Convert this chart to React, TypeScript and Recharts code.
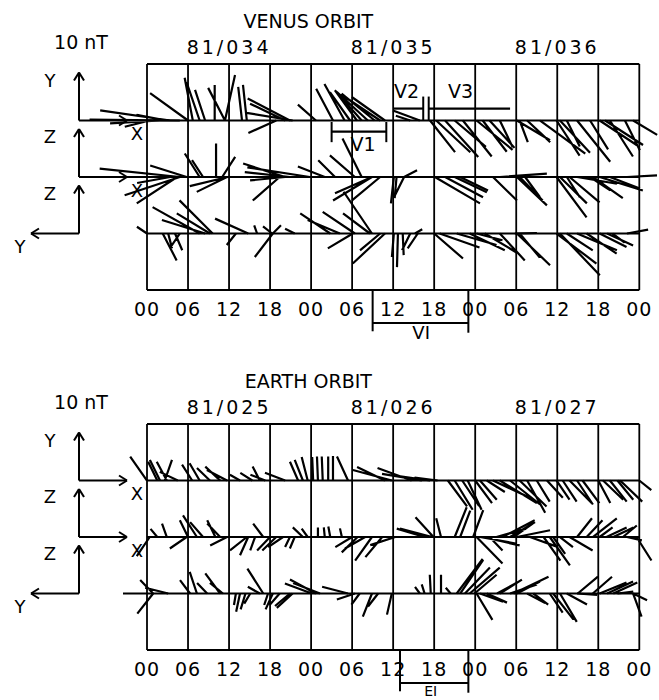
import React from 'react';
import { ComposedChart, XAxis, YAxis, Line, ReferenceLine, ReferenceDot } from 'recharts';

// ---------------- data ----------------
const TICKS = [0, 6, 12, 18, 24, 30, 36, 42, 48, 54, 60, 66, 72];
const TICK_LABELS = ['00', '06', '12', '18', '00', '06', '12', '18', '00', '06', '12', '18', '00'];
const DAY_CENTERS = [12, 36, 60];
const VENUS_DAYS = ['81/034', '81/035', '81/036'];
const EARTH_DAYS = ['81/025', '81/026', '81/027'];
const AXIS_NAMES = [['Y', 'X'], ['Z', 'X'], ['Z', 'Y']];
const SCALE_NT = 10;

// [hour, Bx (nT), By (nT)] vectors, one list per trace
const VENUS_R1: number[][] = [
  [3.4, -14.6, 2.1], [4.8, -18.8, 0.2], [2.9, -6.3, 1.2], [0.4, -5.2, -1.3], [1.9, -10.4, -0.6],
  [6.0, -7.9, 5.7], [6.7, -1.7, 8.9], [7.7, -2.7, 7.9], [8.5, -2.1, 6.4], [9.9, 0, 7.4], [11.4, -3.5, 6.8], [11.4, 2.1, 9.5],
  [13.9, -0.8, 7.0], [14.6, -0.8, 7.4], [20.9, -8.8, 4.6], [18.9, -5.8, -2.6], [21.3, -9.6, 1.6], [20.2, -7.3, 3.5],
  [24.7, -3.75, 3.3],
  [27.2, -3.5, 6.6], [28.9, -4.2, 7.6], [29.7, -4.2, 5.9], [30.7, -4.5, 6.2], [31.4, -5.6, 6.3], [32.3, -6.5, 6.0],
  [33.3, -6.9, 5.6], [34.1, -7.5, 5.0], [34.8, -6.9, 4.9],
  [39.9, -5.6, 2.1], [38.5, -3, 1.0],
  [41.4, 5.2, -6.6], [42.3, 7.1, -6.6], [43.6, 6.9, -7.6], [45.0, 6.5, -5.5], [46.2, 6.0, -7.5], [48.2, 7.5, -6.1],
  [49.1, 5.0, -6.5], [50.1, 5.2, -5.7], [51.6, 2.7, -5.6], [54.1, 6.9, -4.1], [54.5, 1.7, -4.5], [55.6, 4.8, -4.5],
  [57.5, 9.4, -6.9], [59.9, 4.8, -7.3], [60.4, 6.25, -6.7], [61.4, 2.7, -5.4], [62.9, 6.9, -8.6], [64.8, 3.75, -6],
  [66.2, 7.7, -5.1], [67.0, 7.9, -5.1], [67.7, 4.8, -7.5], [69.9, 3.1, -6.2], [71.1, 5.0, -3.0],
];
const VENUS_R2: number[][] = [
  [4.8, -16.7, 1.75], [5.1, -19.2, 0], [4.8, -11.5, -3.8], [4.4, -8.4, -5.5], [3.4, -6.9, -1.25], [5.8, -7.6, 2.4],
  [7.7, -3.1, 4.9], [8.2, -2.3, 3.5], [10.1, 0, 7.0], [11.8, -7.9, -1.9], [11.7, -6.3, -3.1], [11.0, 2.7, 4.2],
  [20.2, -8.75, 2.8], [20.9, -9.4, 1.0], [19.4, -5.6, -4.9], [20.2, -7.3, -0.7], [26.0, -5.6, 2.2], [23.8, -13, 2.0],
  [27.5, -3.5, 3.5], [30.4, -5.2, 4.5], [31.4, -4.0, 8.0], [32.9, -7.7, -3.4], [32.9, -8.1, -4.9], [34.1, -5.8, -4.8],
  [36.1, -0.6, -5.5], [36.5, -0.4, -4.4], [37.6, 2.7, 1.4], [37.6, -1.9, -3.8],
  [42.1, 9.4, -5.5], [43.6, 7.9, -4.2], [45.0, 6.7, -3.2], [45.8, 5.8, -2.8],
  [50.6, 5.0, -4.9], [51.6, 9.8, 0.7], [54.1, 6.25, -5.9], [54.5, 4.8, -4.9], [55.3, 3.1, -4.2], [59.9, 6.25, -8.4],
  [60.4, 5.6, -5.5], [61.4, 2.7, -4.2], [61.8, 6.25, -5.3], [62.9, 8.3, -1.4], [65.2, 6.25, -4.4], [66.2, 9.0, -2.8],
  [67.7, 6.25, -2.4], [70.2, 6.25, 0.35], [64.8, 4.2, -2.8],
];
const VENUS_R3: number[][] = [
  [0, -2.1, 1.4], [2.3, 2.9, -5.6], [3.1, 0.8, -3.1], [4.1, 1.5, -3.5], [4.8, -2.1, -3.1],
  [7.7, -9.8, 5.5], [8.5, -9.0, 2.8], [9.2, -6.9, 4.2], [9.6, -6.9, 6.9],
  [13.0, -1.9, -2.4], [14.8, -6.9, 3.1], [16.1, -0.6, 1.7], [18.4, -3.75, -4.9], [18.3, -1.9, 1.5], [18.4, 1.7, 1.7], [21.6, -2, 1],
  [26.8, -6.25, 4.2], [28.2, -6.7, 2.8], [30.4, -6.7, 4.5], [30.1, -5.2, -3.1], [32.6, -5.6, 4.2], [32.9, -5.9, 8.7],
  [34.8, -6.7, -6.25], [34.1, -4.2, -3.5],
  [36.1, -0.4, -4.9], [36.7, -0.2, -7.0], [37.4, 0.2, -4.5], [38.5, -1.7, -3.5], [39.6, -2.1, -3.1], [39.2, 1.5, 0.9],
  [42.0, 6.0, -5.2], [42.8, 8.3, -2.9], [45.3, 8.3, -2.4], [47.2, 7.3, -3.5], [48.2, 5.4, -1.4], [49.4, 6.7, -4.0],
  [51.6, 5.2, -5.6], [54.1, 6.9, -6.6], [54.5, 4.2, -5.0], [53.8, 4.6, 0.1], [59.9, 8.3, -6.25], [60.4, 8.3, -8.7],
  [61.4, 5.4, -3.5], [62.9, 8.3, -3.5], [64.3, 6.25, -4.2], [66.2, 5.6, -2.8], [67.3, 5.4, -2.5], [68.1, 2.5, -1.9], [70.2, 4.4, 0.8],
];
const EARTH_R1: number[][] = [
  [0, -3.5, 5.0], [1.5, -1.9, 3.9], [1.9, -2.1, 4.3], [2.9, -2.1, 3.9], [2.6, 1.5, 4.3], [4.5, -3.75, 1.8],
  [6.6, -2.1, 3.3], [7.7, -2.1, 3.6], [9.2, -2.7, 2.6], [10.7, -3.1, 2.9], [11.7, -4.2, 2.2], [13.6, -2.1, 1.2],
  [15.4, -2.5, 1.6], [16.5, -1.5, 2.9], [17.3, -3.1, 1.2], [20.2, -4.2, 1.6],
  [22.1, -1.7, 3.9], [22.8, -1.7, 4.3], [23.5, -1.25, 4.9], [24.3, -0.2, 4.9], [25.0, -0.2, 5.0], [25.7, -0.2, 5.0],
  [26.5, 0, 5.0], [27.2, 0, 5.1], [29.4, -2.3, 5.0],
  [35.8, -8.1, 2.2], [34.8, -5.8, 2.8], [38.7, -7.1, 2.6], [40.2, -8.3, 1.4], [41.4, -7.3, 1.0], [42.5, -4.8, 0.6],
  [44.0, 4.0, -5.4], [45.0, 3.75, -6.1], [46.1, 3.5, -5.3], [46.9, 2.9, -6.1], [48.0, 3.5, -4.7],
  [48.7, 3.5, -4.0], [49.7, 3.75, -2.4], [50.6, 7.7, -3.6], [51.6, 7.7, -4.7], [53.1, 6.25, -5.0], [54.5, 5.6, -5.4],
  [55.6, 3.75, -6.7], [57.0, 2.7, -4.4], [58.5, 3.3, -3.6], [59.9, 2.7, -4.0], [60.8, 2.9, -4.4], [61.8, 4.6, -4.7],
  [62.9, 3.3, -5.0], [63.7, 3.5, -4.7], [66.0, 2.5, -4.7], [66.7, 4.2, -4.0], [67.7, 3.5, -4.4], [68.8, 3.3, -4.0],
  [69.2, 4.6, -4.4], [72.0, 2.5, -2.0],
];
const EARTH_R2: number[][] = [
  [0.4, -2.7, -4.0], [1.5, -1.4, 1.7], [2.9, -1.0, 2.8], [5.8, -3.5, -2.4], [6.0, -1.7, 3.5], [7.3, -2.9, 4.5],
  [8.2, -2.7, 3.1], [10.0, -1.7, 3.5], [10.7, -2.7, 2.8], [11.7, -3.5, -1.75],
  [14.6, -3.5, -2.8], [14.8, -1.7, -3.8], [15.8, -1.0, -2.8], [17.0, -2.1, 2.8], [18.0, -2.7, -2.8], [18.9, -2.9, -2.8],
  [19.9, -3.1, -2.1], [20.9, -1.0, -2.1], [21.6, -1.0, -2.4], [22.8, -2.1, 2.0],
  [23.5, -1.25, 1.75], [25.0, 0, 2.0], [26.0, -0.2, 2.0], [26.8, -0.4, 2.2], [28.5, -0.4, 1.8], [30.0, -3.5, -2.1],
  [30.8, -3.3, -3.2], [31.9, -4.2, -2.4], [32.9, -3.5, -4.9], [34.4, -3.5, -4.2], [35.8, -6.7, 0], [36.3, -5.2, -1.7],
  [40.6, -5.8, 1.75], [41.7, -6.7, 1.75], [41.9, -3.75, 4.1], [43.0, -1.0, 3.9], [45.0, 2.5, 6.2], [45.8, 2.1, 5.5], [47.7, 2.1, 5.6],
  [48.2, 5.4, -5.5], [48.7, 7.7, -1.4], [49.1, 7.7, -1.75], [50.1, 2.7, -2.8], [51.1, 6.25, 1.75], [52.0, 6.7, 3.5],
  [53.1, 5.2, 3.1], [53.6, 4.0, 2.8], [54.1, 6.9, 1.4], [56.0, 5.6, -2.0], [58.0, 3.5, -4.9], [58.9, 4.2, -5.9],
  [59.4, 2.5, -3.5], [60.4, 2.7, -2.1], [61.8, 4.8, -2.8], [62.9, 3.1, 3.9], [64.3, 3.3, 3.5], [65.2, 5.0, 3.9],
  [66.2, 2.7, 2.0], [67.2, 4.2, 2.0], [68.2, 4.2, 2.0], [69.6, 2.9, 2.4], [70.2, 3.1, -0.7], [71.6, 3.1, -4.9],
];
const EARTH_R3: number[][] = [
  [0, -5.0, 0], [0.9, -2.7, 2.8], [3.1, -4.8, 1.2], [0.9, -3.3, -4.2],
  [6.3, -2.1, 2.8], [7.3, -1.5, 4.5], [8.8, -2.1, 2.2], [10.7, -3.1, 4.2], [11.1, -2.7, 2.2],
  [13.0, -0.4, -2.4], [13.6, -0.8, -3.8], [14.4, -1.0, -3.3], [15.1, -1.25, -2.1], [16.5, -2.5, 1.4], [17.0, -3.3, 5.2],
  [17.7, -0.8, -2.4], [18.4, -1.5, -3.3], [19.4, -2.1, -2.4], [20.9, -3.1, -2.6], [21.3, -3.3, -3.0],
  [24.7, -5.4, 2.9], [25.3, -5.6, 2.2], [24.1, -5.6, 2.1], [29.4, -5.4, 1.4], [30.4, -3.75, -1.25], [31.1, -1.7, -2.3],
  [32.9, -1.9, -4.8], [33.8, -2.1, -2.7], [35.8, -1.0, -4.4],
  [39.9, -1.0, 1.4], [40.6, -0.6, 1.9], [41.5, -0.2, 3.9], [43.0, 0, 3.9], [44.4, -1.0, 1.2],
  [45.3, 5.4, 7.2], [45.8, 4.8, 7.0], [46.5, 5.2, 5.4], [47.2, 6.25, 5.4], [47.9, 4.6, 3.9], [48.2, 3.3, -5.5],
  [48.7, 4.8, -1.7], [49.7, 4.2, -1.9], [51.2, 4.2, 2.3], [51.6, 4.6, 2.9], [53.1, 5.6, 1.9], [53.6, 7.3, 3.5],
  [54.1, 4.8, 2.5], [55.6, 3.75, -2.0], [56.5, 3.1, -2.3], [58.9, 2.7, -4.0], [59.4, 4.2, -5.4], [60.4, 3.5, -5.9],
  [61.4, 4.2, -2.3], [62.9, 4.2, -0.3], [63.0, 4.2, 3.5], [65.2, 4.0, 3.5], [66.2, 5.6, 2.3], [67.3, 5.4, 2.5],
  [68.2, 5.0, 2.3], [68.8, 3.3, 0.4], [71.1, 2.9, -1.4], [71.1, 1.75, -4.8],
];

// interval markers [start hour, end hour]
const V1 = [27.0, 35.0];
const V2 = [36.0, 40.4];
const V3 = [41.2, 53.1];
const VI = [33.0, 47.0];
const EI = [37.0, 47.0];

// ---------------- layout ----------------
const W = 659;
const PX_H = 6.8375; // px per hour
const PX_NT = 4.8; // px per nT
const K = PX_NT / PX_H; // hour-width of 1 nT
const PLOT_H = 290;
const X_MIN = -147 / PX_H;
const X_MAX = (W - 147) / PX_H;
const Y_MAX = PLOT_H / PX_NT;
const ROW = 11.77;
const BASES = [3 * ROW, 2 * ROW, ROW];
const BOX_TOP = 4 * ROW;
const AXIS_T0 = -68 / PX_H;
const FONT = 'DejaVu Sans';
const hx = (px: number) => px / PX_H;
const ny = (px: number) => px / PX_NT;

const seg = (key: string, a: number[], b: number[], w = 1.8) => (
  <ReferenceLine
    key={key}
    segment={[{ x: a[0], y: a[1] }, { x: b[0], y: b[1] }]}
    stroke="#000"
    strokeWidth={w}
    ifOverflow="visible"
  />
);

const textMark = (key: string, t: number, y: number, text: string, size = 19, spacing = 0) => (
  <ReferenceDot
    key={key}
    x={t}
    y={y}
    r={0}
    fill="none"
    stroke="none"
    ifOverflow="visible"
    label={{
      content: (p: any) => {
        const vb = p.viewBox || {};
        const cx = (vb.x ?? 0) + (vb.width ?? 0) / 2;
        const cy = (vb.y ?? 0) + (vb.height ?? 0) / 2;
        return (
          <text x={cx} y={cy} dy="0.36em" textAnchor="middle" fontSize={size} fontFamily={FONT}
            letterSpacing={spacing} fill="#000">{text}</text>
        );
      },
    }}
  />
);

const buildSegs = (rows: number[][], base: number) => {
  const out: { x: number; y: number | null }[] = [];
  rows.forEach(([t, bx, by]) => {
    out.push({ x: t, y: base });
    out.push({ x: t + bx * K, y: base + by });
    out.push({ x: t + bx * K, y: null });
  });
  return out;
};

function gridMarks(): React.ReactElement[] {
  const out: React.ReactElement[] = [];
  TICKS.forEach((t) => out.push(seg(`gv${t}`, [t, 0], [t, BOX_TOP], 1.8)));
  [0, ...BASES, BOX_TOP].forEach((y, i) => out.push(seg(`gh${i}`, [0, y], [72, y], 1.8)));
  return out;
}

function axisMarks(): React.ReactElement[] {
  const out: React.ReactElement[] = [];
  const T0 = AXIS_T0;
  BASES.forEach((B, i) => {
    const top = B + SCALE_NT;
    out.push(seg(`av${i}`, [T0, B], [T0, top], 2));
    out.push(seg(`ava${i}`, [T0, top], [T0 - hx(5), top - ny(8)], 2));
    out.push(seg(`avb${i}`, [T0, top], [T0 + hx(5), top - ny(8)], 2));
    const dir = i < 2 ? 1 : -1;
    const tip = T0 + dir * SCALE_NT * K;
    out.push(seg(`ah${i}`, [T0, B], [tip, B], 2));
    out.push(seg(`aha${i}`, [tip, B], [tip - dir * hx(8), B + ny(5)], 2));
    out.push(seg(`ahb${i}`, [tip, B], [tip - dir * hx(8), B - ny(5)], 2));
    out.push(textMark(`al${i}`, T0 - hx(29), B + 8.4, AXIS_NAMES[i][0], 18));
    if (i < 2) out.push(textMark(`ax${i}`, hx(-10), B - 2.8, AXIS_NAMES[i][1], 18));
    else out.push(textMark(`ay${i}`, T0 - hx(59), B - 2.8, AXIS_NAMES[i][1], 18));
  });
  return out;
}

function lowerBracket(name: string, iv: number[], label: string, labelT: number, labelY: number, size: number): React.ReactElement[] {
  return [
    seg(`${name}l`, [iv[0], 0], [iv[0], -8.6], 2),
    seg(`${name}h`, [iv[0], -6.9], [iv[1], -6.9], 2),
    seg(`${name}r`, [iv[1], 0], [iv[1], -8.9], 2),
    textMark(`${name}t`, labelT, labelY, label, size),
  ];
}

function venusMarks(): React.ReactElement[] {
  const yV1 = 33.0;
  const yV23 = 37.8;
  return [
    seg('v1h', [V1[0], yV1], [V1[1], yV1], 2.2),
    seg('v1l', [V1[0], 30.8], [V1[0], 35.0], 2),
    seg('v1r', [V1[1], 30.8], [V1[1], 35.0], 2),
    textMark('v1t', 31.6, 30.4, 'V1', 19),
    seg('v2h', [V2[0], yV23], [V2[1], yV23], 2.2),
    seg('v2r', [V2[1], BASES[0]], [V2[1], 40.3], 2),
    textMark('v2t', 37.95, 41.35, 'V2', 19),
    seg('v3l', [V3[0], BASES[0]], [V3[0], 40.3], 2),
    seg('v3h', [V3[0], yV23], [V3[1], yV23], 2.2),
    textMark('v3t', 45.85, 41.35, 'V3', 19),
    ...lowerBracket('vi', VI, 'VI', 40.1, -8.9, 18),
  ];
}

function earthMarks(): React.ReactElement[] {
  return lowerBracket('ei', EI, 'EI', 41.5, -8.6, 14);
}

type PanelProps = {
  title: string;
  days: string[];
  rows: number[][][];
  height: number;
  tickMargin: number;
  extra: React.ReactElement[];
};

function Panel({ title, days, rows, height, tickMargin, extra }: PanelProps) {
  return (
    <ComposedChart width={W} height={height} margin={{ top: 0, right: 0, bottom: 0, left: 0 }}>
      <XAxis
        type="number"
        dataKey="x"
        domain={[X_MIN, X_MAX]}
        allowDataOverflow
        ticks={TICKS}
        interval={0}
        tickFormatter={(v: number) => TICK_LABELS[TICKS.indexOf(v)] ?? ''}
        axisLine={false}
        tickLine={false}
        tickSize={0}
        tickMargin={tickMargin}
        height={height - PLOT_H}
        tick={{ fill: '#000', fontSize: 19, fontFamily: FONT, letterSpacing: 1 }}
      />
      <YAxis hide type="number" domain={[0, Y_MAX]} allowDataOverflow />
      {gridMarks()}
      {rows.map((r, i) => (
        <Line
          key={`row${i}`}
          data={buildSegs(r, BASES[i])}
          dataKey="y"
          stroke="#000"
          strokeWidth={2.2}
          dot={false}
          activeDot={false}
          connectNulls={false}
          isAnimationActive={false}
          legendType="none"
        />
      ))}
      {axisMarks()}
      {extra}
      {textMark('title', 23.6, 56.0, title, 19)}
      {textMark('scale', AXIS_T0 + 0.3, 51.6, '10 nT', 19)}
      {days.map((d, i) => textMark(`day${i}`, DAY_CENTERS[i], 50.6, d, 19, 3))}
    </ComposedChart>
  );
}

export default function App() {
  return (
    <div style={{ position: 'absolute', left: 0, top: 0, width: W, height: 700, background: '#fff' }}>
      <div style={{ position: 'absolute', left: 0, top: 0 }}>
        <Panel title="VENUS ORBIT" days={VENUS_DAYS} rows={[VENUS_R1, VENUS_R2, VENUS_R3]}
          height={360} tickMargin={13} extra={venusMarks()} />
      </div>
      <div style={{ position: 'absolute', left: 0, top: 360 }}>
        <Panel title="EARTH ORBIT" days={EARTH_DAYS} rows={[EARTH_R1, EARTH_R2, EARTH_R3]}
          height={340} tickMargin={13} extra={earthMarks()} />
      </div>
    </div>
  );
}
